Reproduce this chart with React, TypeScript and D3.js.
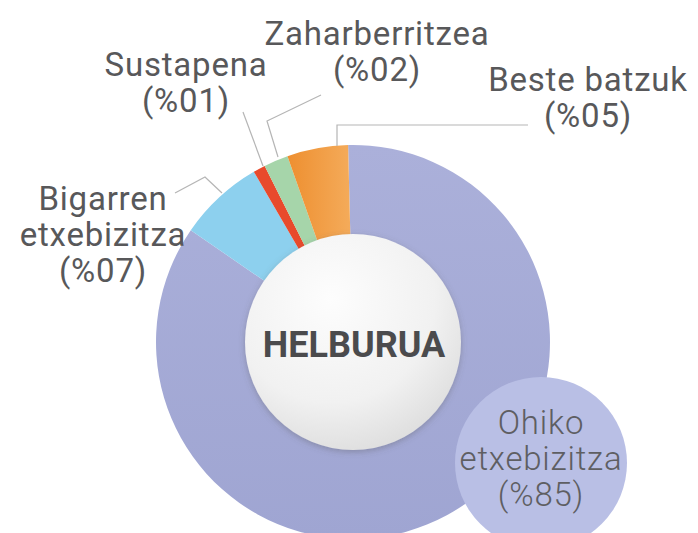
import React from "react";
import * as d3 from "d3";

const categories = ["Ohiko etxebizitza", "Bigarren etxebizitza", "Sustapena", "Zaharberritzea", "Beste batzuk"];
const values = [85, 7, 1, 2, 5];
const pctLabels = ["(%85)", "(%07)", "(%01)", "(%02)", "(%05)"];
const colors = ["#a7acd8", "#8dd0ee", "#e84a2c", "#a6d5aa", "#f09a40"];
const centerLabel = "HELBURUA";

const W = 698;
const H = 533;
const cx = 353;
const cy = 342;
const outerR = 197;
const innerR = 106;
const rot = -0.025;

// label layout: [x, firstBaseline, lines]
const labelLayout: Record<string, { x: number; y: number; lines: string[] }> = {
  "Bigarren etxebizitza": { x: 103, y: 210, lines: ["Bigarren", "etxebizitza", pctLabels[1]] },
  Sustapena: { x: 186, y: 76, lines: ["Sustapena", pctLabels[2]] },
  Zaharberritzea: { x: 377, y: 45, lines: ["Zaharberritzea", pctLabels[3]] },
  "Beste batzuk": { x: 588, y: 91, lines: ["Beste batzuk", pctLabels[4]] },
};

const leaders: Record<string, [number, number][]> = {
  "Bigarren etxebizitza": [[175, 193], [205, 177], [222, 193]],
  Sustapena: [[243, 112], [263, 166]],
  Zaharberritzea: [[321, 95], [267, 121], [278, 157]],
  "Beste batzuk": [[337, 146], [337, 125], [528, 125]],
};

export default function App() {
  const data = categories.map((c, i) => ({ name: c, value: values[i], color: colors[i] }));
  const pie = d3
    .pie<{ name: string; value: number; color: string }>()
    .sort(null)
    .value((d) => d.value)
    .startAngle(rot)
    .endAngle(rot + Math.PI * 2);
  const arcs = pie(data);
  const arc = d3
    .arc<d3.PieArcDatum<{ name: string; value: number; color: string }>>()
    .innerRadius(innerR)
    .outerRadius(outerR);
  const line = d3.line();
  const font = "Roboto, 'DejaVu Sans', sans-serif";

  return (
    <svg width={W} height={H} style={{ position: "absolute", left: 0, top: 0, background: "#fff" }}>
      <defs>
        <linearGradient id="ringGrad" x1="0" y1="0" x2="0" y2="1">
          <stop offset="0" stopColor="#abb0da" />
          <stop offset="1" stopColor="#9fa5d2" />
        </linearGradient>
        <linearGradient id="orangeGrad" x1="0" y1="0" x2="1" y2="0">
          <stop offset="0" stopColor="#ee8f30" />
          <stop offset="1" stopColor="#f4ab5a" />
        </linearGradient>
        <radialGradient id="centerGrad" cx="0.4" cy="0.3" r="0.8">
          <stop offset="0" stopColor="#fdfdfd" />
          <stop offset="0.6" stopColor="#f1f1f1" />
          <stop offset="1" stopColor="#d9d9d9" />
        </radialGradient>
        <filter id="shadow" x="-20%" y="-20%" width="140%" height="140%">
          <feDropShadow dx="0" dy="2" stdDeviation="3" floodColor="#555" floodOpacity="0.35" />
        </filter>
      </defs>

      <g transform={`translate(${cx},${cy})`}>
        {arcs.map((a, i) => (
          <path
            key={a.data.name}
            d={arc(a) || ""}
            fill={i === 0 ? "url(#ringGrad)" : i === 4 ? "url(#orangeGrad)" : a.data.color}
          />
        ))}
        <circle r={108} fill="url(#centerGrad)" filter="url(#shadow)" />
        <text
          x={1}
          y={15}
          textAnchor="middle"
          fontFamily={font}
          fontWeight={700}
          fontSize={36}
          fill="#4b4b4d"
        >
          {centerLabel}
        </text>
      </g>

      {Object.entries(leaders).map(([k, pts]) => (
        <path key={k} d={line(pts) || ""} fill="none" stroke="#b5b5b5" strokeWidth={1.2} />
      ))}

      {Object.entries(labelLayout).map(([k, l]) => (
        <text key={k} textAnchor="middle" fontFamily={font} fontSize={33} letterSpacing={0.8} fill="#58585a">
          {l.lines.map((t, j) => (
            <tspan key={j} x={l.x} y={l.y + j * 36}>
              {t}
            </tspan>
          ))}
        </text>
      ))}

      <circle cx={541} cy={463} r={86} fill="#b9bfe5" />
      <text textAnchor="middle" fontFamily={font} fontSize={33} letterSpacing={0.8} fontWeight={300} fill="#5e5e62">
        {["Ohiko", "etxebizitza", pctLabels[0]].map((t, j) => (
          <tspan key={j} x={541} y={434 + j * 36}>
            {t}
          </tspan>
        ))}
      </text>
    </svg>
  );
}
